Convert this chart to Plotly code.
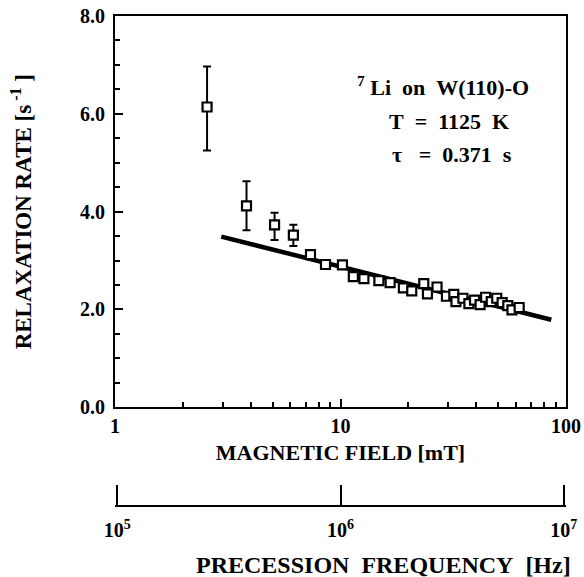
import plotly.graph_objects as go

# Data
field_err = [2.56, 3.83, 5.1, 6.18]
rate_err = [6.14, 4.12, 3.73, 3.52]
err_plus = [0.83, 0.50, 0.25, 0.21]
err_minus = [0.89, 0.50, 0.31, 0.22]

field = [7.36, 8.58, 10.2, 11.4, 12.7, 14.8, 16.6, 19.0, 20.7, 23.4, 24.3, 26.8,
         29.5, 31.8, 32.5, 34.9, 37.1, 39.3, 41.6, 44.0, 46.6, 49.3, 52.1, 55.2,
         57.6, 62.0]
rate = [3.12, 2.92, 2.91, 2.67, 2.63, 2.59, 2.55, 2.44, 2.38, 2.53, 2.32, 2.46,
        2.27, 2.31, 2.16, 2.23, 2.12, 2.19, 2.10, 2.25, 2.16, 2.23, 2.14, 2.08,
        1.99, 2.04]

fit_field = [2.96, 86.1]
fit_rate = [3.49, 1.79]

freq_ticks = [1e5, 1e6, 1e7]
freq_ticktext = ["10<sup>5</sup>", "10<sup>6</sup>", "10<sup>7</sup>"]

FONT = "Liberation Serif"
bold = dict(family=FONT, color="black", weight="bold")

W, H, MT, MB = 584, 577, 16, 71
NB = "\u00a0"


def py(px):
    return (H - MB - px) / (H - MB - MT)


fig = go.Figure()
fig.add_trace(go.Scatter(x=fit_field, y=fit_rate, mode="lines",
                         line=dict(color="black", width=4.5), hoverinfo="skip"))
fig.add_trace(go.Scatter(x=field, y=rate, mode="markers",
                         marker=dict(symbol="square", size=9, color="white",
                                     line=dict(color="black", width=2.2))))
fig.add_trace(go.Scatter(x=field_err, y=rate_err, mode="markers",
                         marker=dict(symbol="square", size=9, color="white",
                                     line=dict(color="black", width=2.2)),
                         error_y=dict(type="data", array=err_plus, arrayminus=err_minus,
                                      color="black", thickness=2, width=4)))
fig.add_trace(go.Scatter(x=freq_ticks, y=[None, None, None], xaxis="x2", yaxis="y",
                         mode="markers", hoverinfo="skip"))

fig.update_layout(
    width=W, height=H,
    margin=dict(l=115, r=18, t=MT, b=MB),
    plot_bgcolor="white", paper_bgcolor="white",
    showlegend=False,
    font=dict(family=FONT, color="black"),
    xaxis=dict(type="log", range=[0, 2], domain=[0, 1], anchor="y",
               showline=True, linewidth=2, linecolor="black", mirror=True,
               ticks="inside", ticklen=8, tickwidth=2, tickcolor="black",
               tickmode="linear", tick0=0, dtick=1,
               tickfont=dict(size=20, **bold), ticklabelstandoff=0,
               minor=dict(ticks="inside", ticklen=5, tickwidth=2,
                          tickcolor="black", dtick="D1", showgrid=False),
               showgrid=False, zeroline=False, automargin=False,
               title=dict(text="MAGNETIC FIELD [mT]", font=dict(size=22, **bold),
                          standoff=8)),
    yaxis=dict(range=[0, 8], domain=[py(407.3), 1], anchor="x",
               showline=True, linewidth=2, linecolor="black", mirror=True,
               ticks="inside", ticklen=8, tickwidth=2, tickcolor="black",
               tickmode="linear", tick0=0, dtick=2, tickformat=".1f",
               tickfont=dict(size=20, **bold), ticklabelstandoff=4,
               minor=dict(ticks="inside", ticklen=5, tickwidth=2,
                          tickcolor="black", dtick=0.5, showgrid=False),
               showgrid=False, zeroline=False, automargin=False,
               title=dict(text="RELAXATION RATE [s<sup> -1</sup>" + NB + "]",
                          font=dict(size=23, **bold), standoff=42)),
    xaxis2=dict(type="log", range=[4.99, 7.01], overlaying="x", anchor="free",
                position=0,
                showline=True, linewidth=2, linecolor="black",
                ticks="inside", ticklen=20, tickwidth=2, tickcolor="black",
                tickmode="array", tickvals=freq_ticks, ticktext=freq_ticktext,
                tickfont=dict(size=20, **bold), ticklabelstandoff=6,
                showgrid=False, zeroline=False, automargin=False),
)

fig.add_annotation(text="PRECESSION" + NB * 2 + "FREQUENCY" + NB * 2 + "[Hz]",
                   xref="paper", yref="paper", x=(383 - 115) / (W - 115 - 18),
                   y=py(565), showarrow=False, xanchor="center", yanchor="middle",
                   font=dict(size=24, **bold))

ann = [
    ("<sup>7</sup>" + NB + "Li" + NB * 2 + "on" + NB * 2 + "W(110)-O", 443, 86, 22),
    ("T" + NB * 2 + "=" + NB * 2 + "1125" + NB * 2 + "K", 449, 121, 22),
    ("\u03c4" + NB * 3 + "=" + NB * 2 + "0.371" + NB * 2 + "s", 452, 155, 22),
]
for text, xpx, ypx, fs in ann:
    fig.add_annotation(text=text, xref="paper", yref="paper",
                       x=(xpx - 115) / (W - 115 - 18),
                       y=py(ypx), showarrow=False,
                       xanchor="center", yanchor="middle",
                       font=dict(size=fs, **bold))

fig.write_html("out.html")
